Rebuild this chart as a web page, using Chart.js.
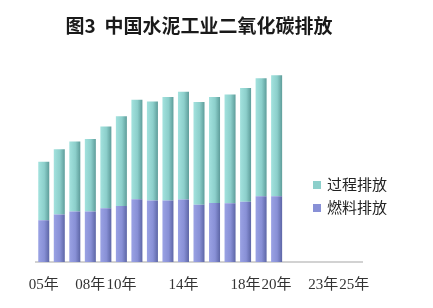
<!DOCTYPE html>
<html>
<head>
<meta charset="utf-8">
<script src="https://cdn.jsdelivr.net/npm/chart.js@4/dist/chart.umd.min.js"></script>
<style>
    html, body { margin: 0; padding: 0; background: #fff; }
    #wrap { position: relative; width: 433px; height: 308px; }
    #legend { position: absolute; left: 313px; top: 174px; font: 15px "Liberation Serif", "Noto Sans CJK SC", serif; color: #222; }
    .item { height: 23px; line-height: 23px; white-space: nowrap; }
    .sw { display: inline-block; width: 8px; height: 8px; margin-right: 6px; vertical-align: 1px; }
</style>
</head>
<body>
<div id="wrap">
    <canvas id="chart" width="433" height="308"></canvas>
    <div id="legend"></div>
</div>
<script>
// Data (亿吨)
const years = ['05年', '06年', '07年', '08年', '09年', '10年', '11年', '12年', '13年', '14年', '15年',
    '16年', '17年', '18年', '19年', '20年', '21年', '22年', '23年', '24年', '25年'];
const shownTicks = ['05年', '08年', '10年', '14年', '18年', '20年', '23年', '25年'];
const fuelEmission = [3.06, 3.48, 3.70, 3.70, 3.92, 4.09, 4.58, 4.49, 4.49, 4.56, 4.19, 4.31, 4.29, 4.41, 4.80, 4.80];
const processEmission = [4.26, 4.76, 5.10, 5.29, 5.98, 6.57, 7.28, 7.25, 7.57, 7.89, 7.50, 7.75, 7.96, 8.31, 8.63, 8.85];

const BAR_W = 11;

// horizontal gradient so each bar looks like the shaded original
const barGradient = (stops) => (context) => {
    const chart = context.chart;
    const xScale = chart.scales.x;
    if (!xScale || context.dataIndex === undefined) return stops[1];
    const cx = xScale.getPixelForValue(context.dataIndex);
    if (!Number.isFinite(cx)) return stops[1];
    const g = chart.ctx.createLinearGradient(cx - BAR_W / 2, 0, cx + BAR_W / 2, 0);
    g.addColorStop(0, stops[0]);
    g.addColorStop(0.55, stops[1]);
    g.addColorStop(1, stops[2]);
    return g;
};

const processColors = ['#a3e2de', '#8ccfcb', '#5e9d9a'];
const fuelColors = ['#9aa2e4', '#8890d6', '#5d66a6'];

const ctx = document.getElementById('chart').getContext('2d');
new Chart(ctx, {
    type: 'bar',
    data: {
        labels: years,
        datasets: [
            {
                label: '燃料排放',
                data: fuelEmission,
                backgroundColor: barGradient(fuelColors),
                borderWidth: 0
            },
            {
                label: '过程排放',
                data: processEmission,
                backgroundColor: barGradient(processColors),
                borderWidth: 0
            }
        ]
    },
    options: {
        responsive: false,
        animation: false,
        layout: { padding: { left: 36, right: 71, top: 0, bottom: 0 } },
        datasets: { bar: { categoryPercentage: 1, barPercentage: BAR_W / 15.5 } },
        plugins: {
            legend: { display: false },
            tooltip: { enabled: false },
            title: {
                display: true,
                text: '图3  中国水泥工业二氧化碳排放',
                color: '#1a1a1a',
                font: { family: '"Noto Sans CJK SC", sans-serif', size: 19, weight: '600', lineHeight: 1.2 },
                padding: { top: 14, bottom: 20 }
            }
        },
        scales: {
            x: {
                stacked: true,
                grid: { display: false, drawTicks: false },
                border: { display: true, color: '#d2d2d2', width: 2 },
                ticks: {
                    autoSkip: false,
                    maxRotation: 0,
                    padding: 14,
                    color: '#333',
                    font: { family: '"Liberation Serif", "Noto Sans CJK SC", serif', size: 15 },
                    callback: function(value) {
                        const label = this.getLabelForValue(value);
                        return shownTicks.includes(label) ? label : '';
                    }
                }
            },
            y: {
                stacked: true,
                display: false,
                min: 0,
                max: 15
            }
        }
    }
});

// Legend (top series first, as in the original)
const legendItems = [
    { text: '过程排放', color: processColors[1] },
    { text: '燃料排放', color: fuelColors[1] }
];
document.getElementById('legend').innerHTML = legendItems.map(item =>
    `<div class="item"><span class="sw" style="background:${item.color}"></span>${item.text}</div>`
).join('');
</script>
</body>
</html>
